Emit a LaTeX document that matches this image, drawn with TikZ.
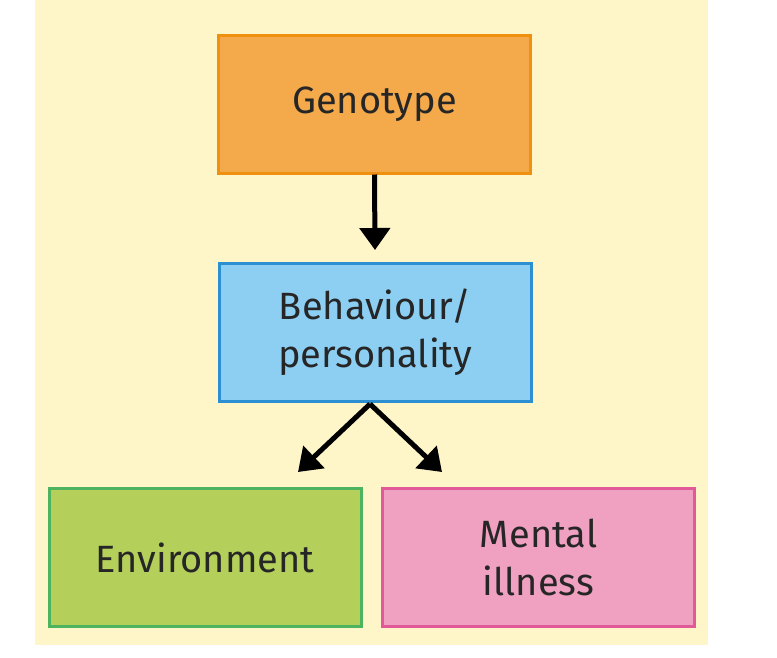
\documentclass[tikz,border=0pt]{standalone}
\usepackage{fontspec}
\setmainfont{Fira Sans}
\usetikzlibrary{arrows.meta}
\definecolor{bg}{HTML}{FEF6C8}
\definecolor{orf}{HTML}{F4A94B}\definecolor{ord}{HTML}{F0900F}
\definecolor{blf}{HTML}{8DCFF2}\definecolor{bld}{HTML}{2B8FD1}
\definecolor{grf}{HTML}{B5CF5B}\definecolor{grd}{HTML}{4DB35F}
\definecolor{pkf}{HTML}{F0A0C0}\definecolor{pkd}{HTML}{E05A9A}
\begin{document}
\begin{tikzpicture}[x=1pt,y=-1pt,
  box/.style={draw,line width=3pt,minimum width=312pt,minimum height=138pt,align=center,font=\fontsize{38}{48}\selectfont,text=black!85},
  arr/.style={line width=5pt,-{Triangle[length=22pt,width=30pt]}}]
\useasboundingbox (0,0) rectangle (777,657);
\fill[bg] (35,0) rectangle (708,645);
\node[box,fill=orf,draw=ord] (g) at (374.5,104) {Genotype};
\node[box,fill=blf,draw=bld] (b) at (375,332.5) {Behaviour/\\personality};
\node[box,fill=grf,draw=grd] (e) at (205,557.5) {Environment};
\node[box,fill=pkf,draw=pkd] (m) at (538.5,557.5) {Mental\\illness};
\coordinate (g1) at (375,250);
\coordinate (b0) at (370,404);
\coordinate (e1) at (298,472);
\coordinate (m1) at (442,472);
\draw[arr] (g.south) -- (g1);
\draw[arr] (b0) -- (e1);
\draw[arr] (b0) -- (m1);
\end{tikzpicture}
\end{document}
